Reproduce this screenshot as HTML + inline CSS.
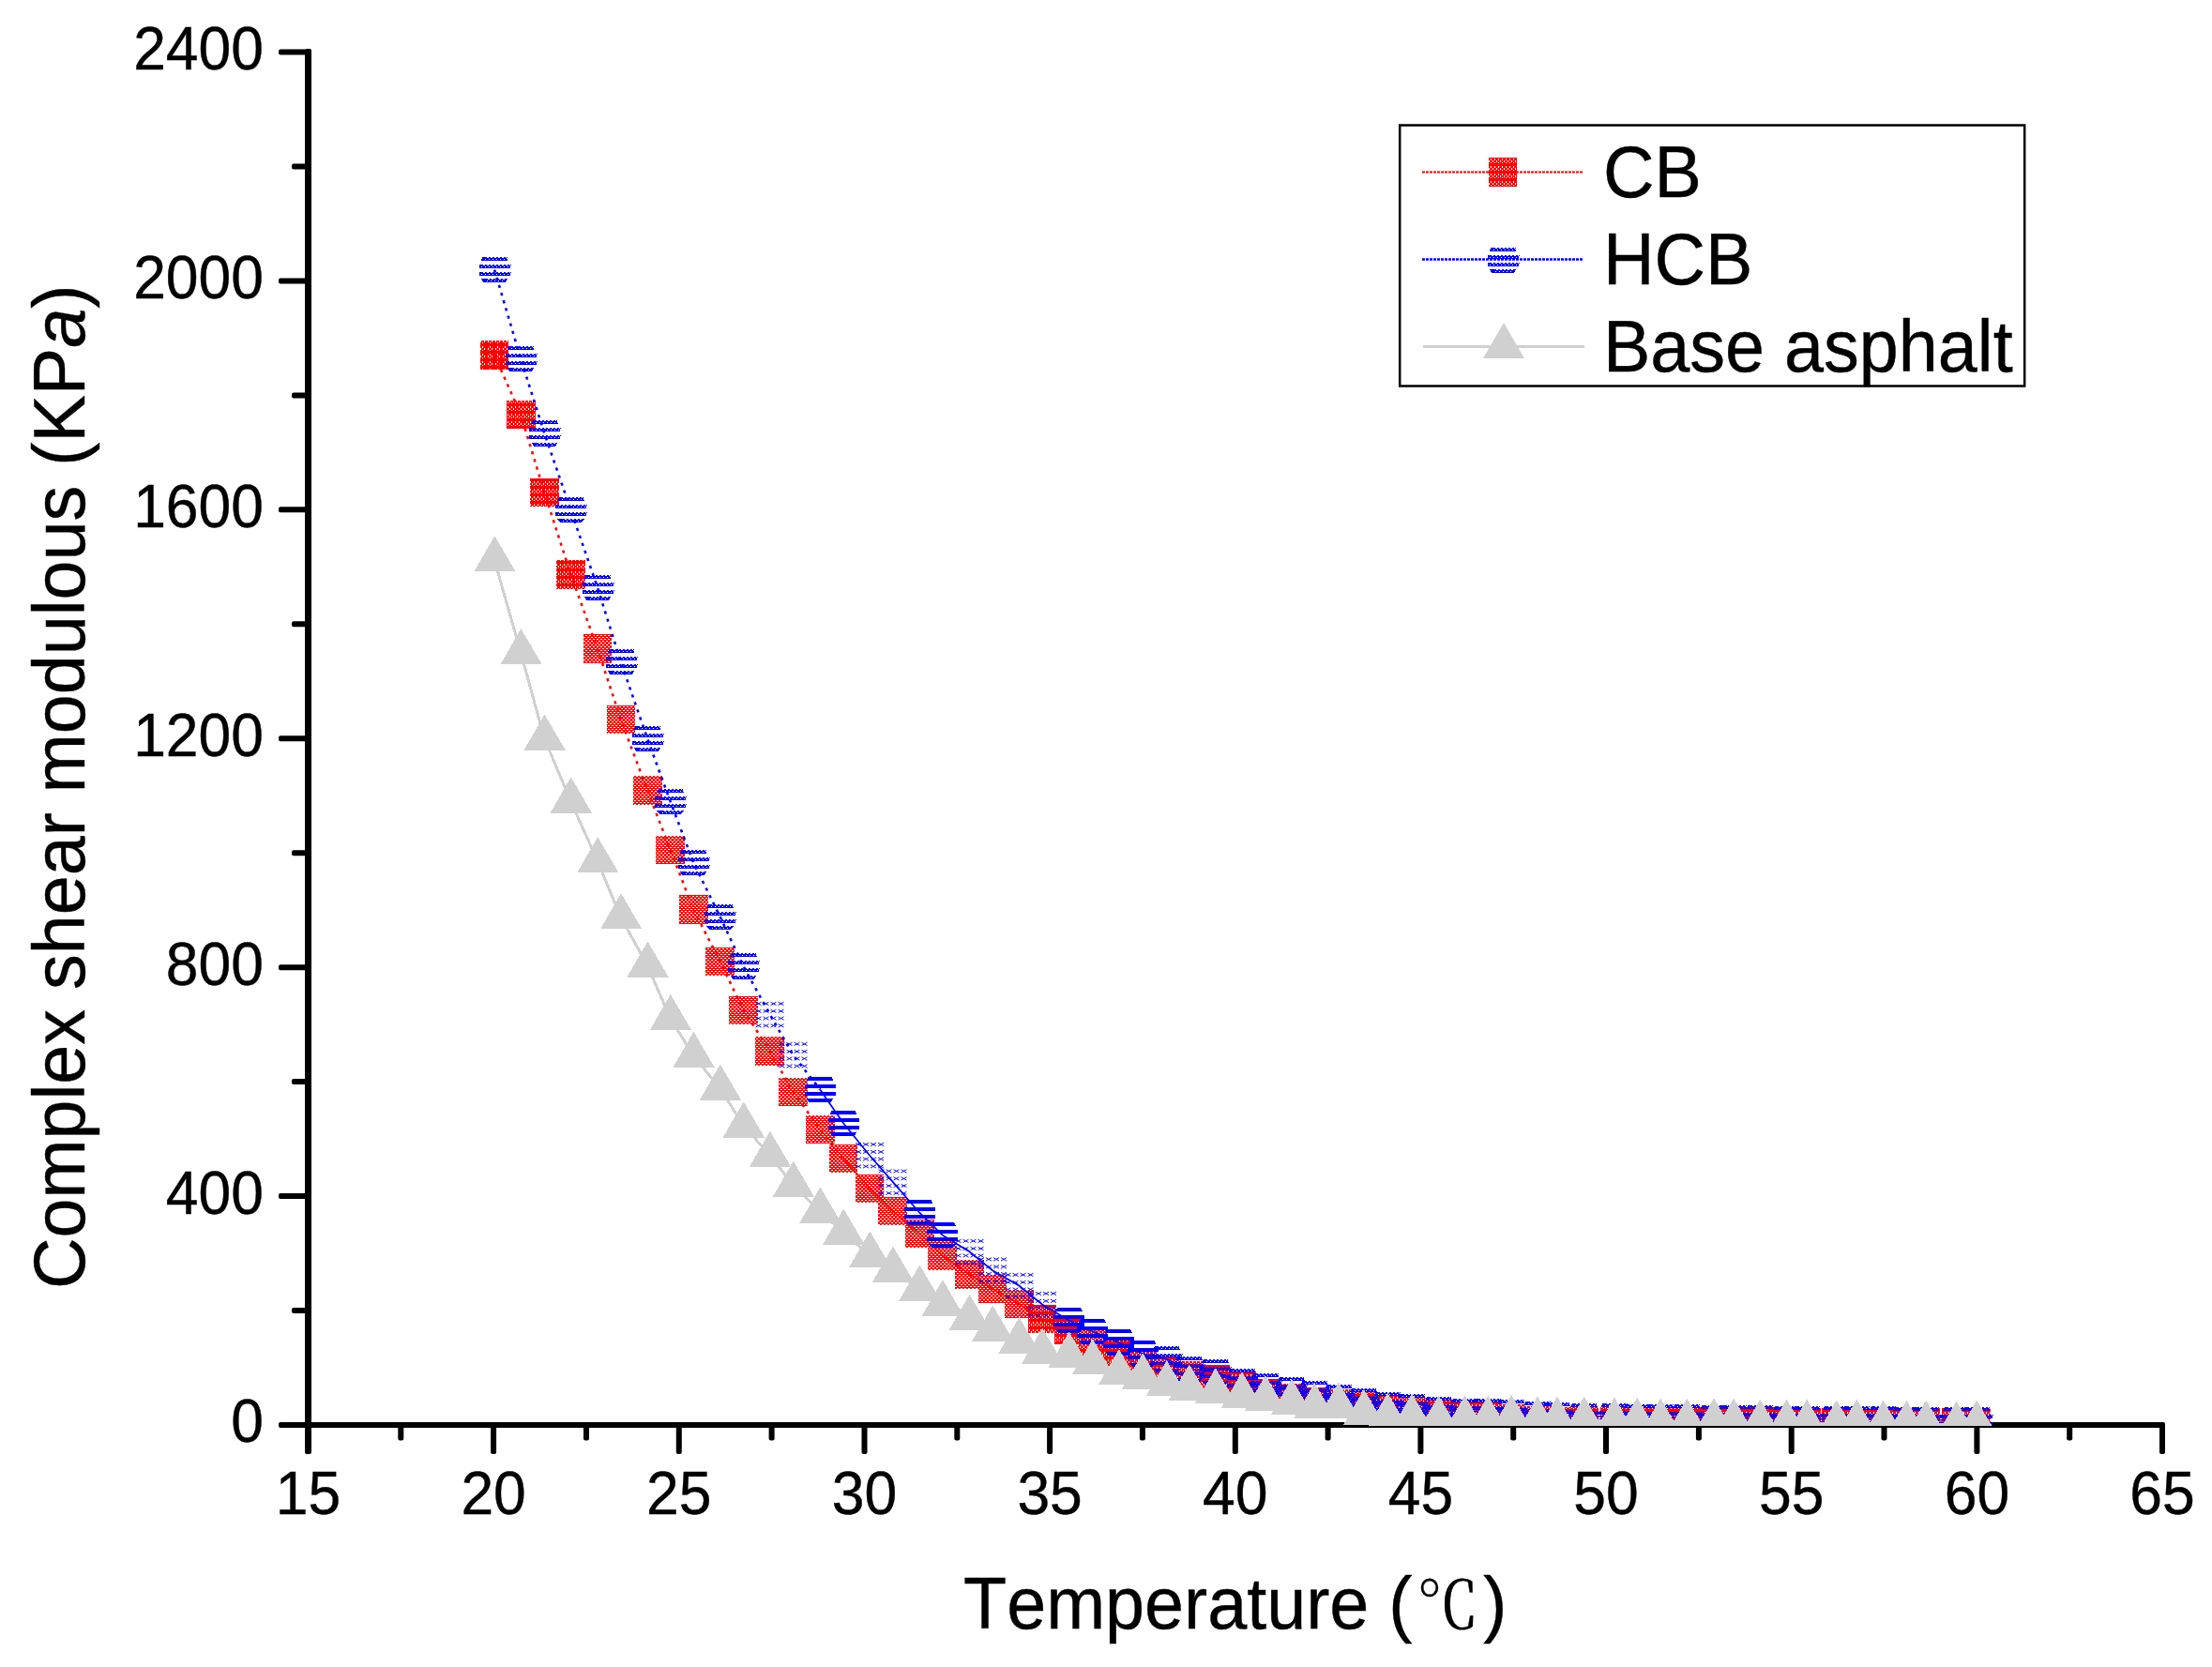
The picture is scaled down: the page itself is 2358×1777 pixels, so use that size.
<!DOCTYPE html>
<html lang="en"><head><meta charset="utf-8">
<title>Complex shear modulous vs Temperature</title>
<style>
html,body{margin:0;padding:0;background:#fff;}
body{width:2358px;height:1777px;overflow:hidden;}
svg{display:block;}
text{font-family:"Liberation Sans","Noto Serif CJK SC",sans-serif;fill:#000;stroke:#000;stroke-width:.4px;font-kerning:none;}
.tick{font-size:62px;}
.title{font-size:75px;}
.cjk{font-family:"Noto Serif CJK SC","Liberation Serif",serif;}
</style></head><body>
<svg width="2358" height="1777" viewBox="0 0 2358 1777">
<rect width="2358" height="1777" fill="#fff"/>
<defs>
<pattern id="r1" width="8" height="8" patternUnits="userSpaceOnUse"><path fill="#f00" d="M0 0h8v8h-8z M2 1h1v2h-1z M0 3h1v2h-1z M4 3h1v2h-1z M2 5h1v1h-1z" fill-rule="evenodd"/></pattern>
<pattern id="r2" width="4" height="8" patternUnits="userSpaceOnUse"><path fill="#f00" d="M0 0h4v8h-4z M1 1h1v2h-1z M3 3h1v2h-1z M1 5h1v1h-1z" fill-rule="evenodd"/></pattern>
<pattern id="r3" width="4" height="4" patternUnits="userSpaceOnUse"><path fill="#f00" d="M0 0h4v4h-4z M0 1h2v1h-2z M2 3h2v1h-2z" fill-rule="evenodd"/></pattern>
<path id="hcA" fill="#00f" fill-rule="evenodd" d="M-12.5 -13.6H12.5L14.5 -9.6H-14.5zM-10.0 -11.6h1v1h-1zM-8.5 -13.6h2v1h-2zM-6.0 -11.6h1v1h-1zM-4.5 -13.6h2v1h-2zM-2.0 -11.6h1v1h-1zM-0.5 -13.6h2v1h-2zM2.0 -11.6h1v1h-1zM3.5 -13.6h2v1h-2zM6.0 -11.6h1v1h-1zM7.5 -13.6h2v1h-2zM10.0 -11.6h1v1h-1zM11.5 -13.6h2v1h-2zM-16.5 -5.6H16.5L16.5 -1.6H-16.5zM-14.0 -3.6h1v1h-1zM-12.5 -5.6h2v1h-2zM-10.0 -3.6h1v1h-1zM-8.5 -5.6h2v1h-2zM-6.0 -3.6h1v1h-1zM-4.5 -5.6h2v1h-2zM-2.0 -3.6h1v1h-1zM-0.5 -5.6h2v1h-2zM2.0 -3.6h1v1h-1zM3.5 -5.6h2v1h-2zM6.0 -3.6h1v1h-1zM7.5 -5.6h2v1h-2zM10.0 -3.6h1v1h-1zM11.5 -5.6h2v1h-2zM14.0 -3.6h1v1h-1zM15.5 -5.6h2v1h-2zM-16.5 2.0H16.5L16.5 6.0H-16.5zM-14.0 4.0h1v1h-1zM-12.5 2.0h2v1h-2zM-10.0 4.0h1v1h-1zM-8.5 2.0h2v1h-2zM-6.0 4.0h1v1h-1zM-4.5 2.0h2v1h-2zM-2.0 4.0h1v1h-1zM-0.5 2.0h2v1h-2zM2.0 4.0h1v1h-1zM3.5 2.0h2v1h-2zM6.0 4.0h1v1h-1zM7.5 2.0h2v1h-2zM10.0 4.0h1v1h-1zM11.5 2.0h2v1h-2zM14.0 4.0h1v1h-1zM15.5 2.0h2v1h-2zM-14.2 9.9H14.2L11.0 13.9H-11.0zM-8.5 11.9h1v1h-1zM-7.0 9.9h2v1h-2zM-4.5 11.9h1v1h-1zM-3.0 9.9h2v1h-2zM-0.5 11.9h1v1h-1zM1.0 9.9h2v1h-2zM3.5 11.9h1v1h-1zM5.0 9.9h2v1h-2zM7.5 11.9h1v1h-1zM9.0 9.9h2v1h-2z"/>
<path id="hcC" fill="#00f" d="M-12.5 -13.6H12.5L14.5 -9.6H-14.5zM-16.5 -5.6H16.5L16.5 -1.6H-16.5zM-16.5 2.0H16.5L16.5 6.0H-16.5zM-14.2 9.9H14.2L11.0 13.9H-11.0z"/>
<path id="hcB" fill="none" stroke="#00f" stroke-width=".95" shape-rendering="auto" d="M-15.0 -13.3L-9.0 -9.9M-15.0 -9.9L-9.0 -13.3M-7.0 -13.3L-1.0 -9.9M-7.0 -9.9L-1.0 -13.3M1.0 -13.3L7.0 -9.9M1.0 -9.9L7.0 -13.3M9.0 -13.3L15.0 -9.9M9.0 -9.9L15.0 -13.3M-15.0 -5.3L-9.0 -1.9M-15.0 -1.9L-9.0 -5.3M-7.0 -5.3L-1.0 -1.9M-7.0 -1.9L-1.0 -5.3M1.0 -5.3L7.0 -1.9M1.0 -1.9L7.0 -5.3M9.0 -5.3L15.0 -1.9M9.0 -1.9L15.0 -5.3M-15.0 2.3L-9.0 5.7M-15.0 5.7L-9.0 2.3M-7.0 2.3L-1.0 5.7M-7.0 5.7L-1.0 2.3M1.0 2.3L7.0 5.7M1.0 5.7L7.0 2.3M9.0 2.3L15.0 5.7M9.0 5.7L15.0 2.3M-15.0 10.2L-9.0 13.6M-15.0 13.6L-9.0 10.2M-7.0 10.2L-1.0 13.6M-7.0 13.6L-1.0 10.2M1.0 10.2L7.0 13.6M1.0 13.6L7.0 10.2M9.0 10.2L15.0 13.6M9.0 13.6L15.0 10.2"/>
<clipPath id="plot"><rect x="332" y="40" width="1990" height="1480"/></clipPath>
</defs>
<g fill="#000">
<rect x="325" y="52" width="7" height="1498" ry="2"/>
<rect x="297" y="1516" width="2011" height="6" rx="2"/>
<rect x="311" y="1394.0" width="16" height="6" rx="2"/>
<rect x="297" y="1272.1" width="30" height="6" rx="2"/>
<rect x="311" y="1150.1" width="16" height="6" rx="2"/>
<rect x="297" y="1028.2" width="30" height="6" rx="2"/>
<rect x="311" y="906.2" width="16" height="6" rx="2"/>
<rect x="297" y="784.2" width="30" height="6" rx="2"/>
<rect x="311" y="662.3" width="16" height="6" rx="2"/>
<rect x="297" y="540.3" width="30" height="6" rx="2"/>
<rect x="311" y="418.4" width="16" height="6" rx="2"/>
<rect x="297" y="296.4" width="30" height="6" rx="2"/>
<rect x="311" y="174.5" width="16" height="6" rx="2"/>
<rect x="297" y="52.5" width="30" height="6" rx="2"/>
<rect x="424.3" y="1518" width="6" height="17.5" ry="2"/>
<rect x="523.1" y="1518" width="6" height="32" ry="2"/>
<rect x="622.0" y="1518" width="6" height="17.5" ry="2"/>
<rect x="720.8" y="1518" width="6" height="32" ry="2"/>
<rect x="819.6" y="1518" width="6" height="17.5" ry="2"/>
<rect x="918.5" y="1518" width="6" height="32" ry="2"/>
<rect x="1017.3" y="1518" width="6" height="17.5" ry="2"/>
<rect x="1116.1" y="1518" width="6" height="32" ry="2"/>
<rect x="1214.9" y="1518" width="6" height="17.5" ry="2"/>
<rect x="1313.8" y="1518" width="6" height="32" ry="2"/>
<rect x="1412.6" y="1518" width="6" height="17.5" ry="2"/>
<rect x="1511.4" y="1518" width="6" height="32" ry="2"/>
<rect x="1610.2" y="1518" width="6" height="17.5" ry="2"/>
<rect x="1709.0" y="1518" width="6" height="32" ry="2"/>
<rect x="1807.9" y="1518" width="6" height="17.5" ry="2"/>
<rect x="1906.7" y="1518" width="6" height="32" ry="2"/>
<rect x="2005.5" y="1518" width="6" height="17.5" ry="2"/>
<rect x="2104.4" y="1518" width="6" height="32" ry="2"/>
<rect x="2203.2" y="1518" width="6" height="17.5" ry="2"/>
<rect x="2302.0" y="1518" width="6" height="32" ry="2"/>
</g>
<g clip-path="url(#plot)" shape-rendering="crispEdges">
<polyline points="527.1,378.4 555.2,442.0 580.3,524.8 608.4,612.2 637.0,691.7 661.8,767.0 690.2,842.7 714.6,905.8 739.2,969.5 767.6,1024.9 792.5,1076.8 820.7,1120.4 845.5,1163.8 874.2,1203.9 899.0,1234.9" fill="none" stroke="#f00" stroke-width="2.6" stroke-dasharray="3.2 5.3" shape-rendering="auto"/>
<polyline points="899.0,1234.9 927.1,1266.9 951.7,1291.0 980.2,1314.9 1004.7,1338.6 1033.4,1358.2 1058.0,1373.8 1086.3,1390.1 1111.0,1405.8 1139.4,1418.0 1164.6,1433.0 1192.6,1444.0 1217.9,1456.0 1243.5,1461.8 1267.6,1466.0 1295.6,1470.3 1323.8,1477.5 1348.8,1485.5 1376.7,1490.0 1401.1,1493.8 1426.8,1496.0 1453.7,1499.5 1479.0,1503.0 1504.9,1505.5 1533.4,1508.0 1561.3,1509.5 1586.0,1510.5 1611.0,1512.5 1638.8,1514.0 1659.7,1515.0 1688.5,1515.0 1720.8,1515.0 1745.0,1515.0 1769.9,1515.0 1798.1,1515.0 1826.8,1515.0 1847.9,1515.0 1876.1,1515.5 1904.3,1516.0 1925.8,1516.0 1957.6,1516.0 1979.1,1516.0 2007.4,1516.0 2032.2,1516.0 2053.0,1516.0 2085.4,1516.0 2107.1,1516.0" fill="none" stroke="#f00" stroke-width="1.7" shape-rendering="auto"/>
<rect x="511.8" y="363.1" width="30.6" height="30.6" fill="url(#r1)"/>
<rect x="539.9" y="426.7" width="30.6" height="30.6" fill="url(#r2)"/>
<rect x="565.0" y="509.5" width="30.6" height="30.6" fill="url(#r2)"/>
<rect x="593.1" y="596.9" width="30.6" height="30.6" fill="url(#r2)"/>
<rect x="621.7" y="676.4" width="30.6" height="30.6" fill="url(#r3)"/>
<rect x="646.5" y="751.7" width="30.6" height="30.6" fill="url(#r3)"/>
<rect x="674.9" y="827.4" width="30.6" height="30.6" fill="url(#r3)"/>
<rect x="699.3" y="890.5" width="30.6" height="30.6" fill="url(#r3)"/>
<rect x="723.9" y="954.2" width="30.6" height="30.6" fill="url(#r3)"/>
<rect x="752.3" y="1009.6" width="30.6" height="30.6" fill="url(#r3)"/>
<rect x="777.2" y="1061.5" width="30.6" height="30.6" fill="url(#r3)"/>
<rect x="805.4" y="1105.1" width="30.6" height="30.6" fill="url(#r3)"/>
<rect x="830.2" y="1148.5" width="30.6" height="30.6" fill="url(#r3)"/>
<rect x="858.9" y="1188.6" width="30.6" height="30.6" fill="url(#r3)"/>
<rect x="883.7" y="1219.6" width="30.6" height="30.6" fill="url(#r3)"/>
<rect x="911.8" y="1251.6" width="30.6" height="30.6" fill="url(#r3)"/>
<rect x="936.4" y="1275.7" width="30.6" height="30.6" fill="url(#r3)"/>
<rect x="964.9" y="1299.6" width="30.6" height="30.6" fill="url(#r3)"/>
<rect x="989.4" y="1323.3" width="30.6" height="30.6" fill="url(#r3)"/>
<rect x="1018.1" y="1342.9" width="30.6" height="30.6" fill="url(#r3)"/>
<rect x="1042.7" y="1358.5" width="30.6" height="30.6" fill="url(#r3)"/>
<rect x="1071.0" y="1374.8" width="30.6" height="30.6" fill="url(#r3)"/>
<rect x="1095.7" y="1390.5" width="30.6" height="30.6" fill="url(#r2)"/>
<rect x="1124.1" y="1402.7" width="30.6" height="30.6" fill="url(#r2)"/>
<rect x="1149.3" y="1417.7" width="30.6" height="30.6" fill="url(#r2)"/>
<rect x="1177.3" y="1428.7" width="30.6" height="30.6" fill="url(#r2)"/>
<rect x="1202.6" y="1440.7" width="30.6" height="30.6" fill="url(#r2)"/>
<rect x="1228.2" y="1446.5" width="30.6" height="30.6" fill="url(#r2)"/>
<rect x="1252.3" y="1450.7" width="30.6" height="30.6" fill="url(#r2)"/>
<rect x="1280.3" y="1455.0" width="30.6" height="30.6" fill="url(#r2)"/>
<rect x="1308.5" y="1462.2" width="30.6" height="30.6" fill="url(#r2)"/>
<rect x="1333.5" y="1470.2" width="30.6" height="30.6" fill="url(#r2)"/>
<rect x="1361.4" y="1474.7" width="30.6" height="30.6" fill="url(#r2)"/>
<rect x="1385.8" y="1478.5" width="30.6" height="30.6" fill="url(#r2)"/>
<rect x="1411.5" y="1480.7" width="30.6" height="30.6" fill="url(#r2)"/>
<rect x="1438.4" y="1484.2" width="30.6" height="30.6" fill="url(#r2)"/>
<rect x="1463.7" y="1487.7" width="30.6" height="30.6" fill="url(#r2)"/>
<rect x="1489.6" y="1490.2" width="30.6" height="30.6" fill="url(#r2)"/>
<rect x="1518.1" y="1492.7" width="30.6" height="30.6" fill="url(#r2)"/>
<rect x="1546.0" y="1494.2" width="30.6" height="30.6" fill="url(#r2)"/>
<rect x="1570.7" y="1495.2" width="30.6" height="30.6" fill="url(#r2)"/>
<rect x="1595.7" y="1497.2" width="30.6" height="30.6" fill="url(#r2)"/>
<rect x="1623.5" y="1498.7" width="30.6" height="30.6" fill="url(#r2)"/>
<rect x="1644.4" y="1499.7" width="30.6" height="30.6" fill="url(#r2)"/>
<rect x="1673.2" y="1499.7" width="30.6" height="30.6" fill="url(#r2)"/>
<rect x="1705.5" y="1499.7" width="30.6" height="30.6" fill="url(#r2)"/>
<rect x="1729.7" y="1499.7" width="30.6" height="30.6" fill="url(#r2)"/>
<rect x="1754.6" y="1499.7" width="30.6" height="30.6" fill="url(#r2)"/>
<rect x="1782.8" y="1499.7" width="30.6" height="30.6" fill="url(#r2)"/>
<rect x="1811.5" y="1499.7" width="30.6" height="30.6" fill="url(#r2)"/>
<rect x="1832.6" y="1499.7" width="30.6" height="30.6" fill="url(#r2)"/>
<rect x="1860.8" y="1500.2" width="30.6" height="30.6" fill="url(#r2)"/>
<rect x="1889.0" y="1500.7" width="30.6" height="30.6" fill="url(#r2)"/>
<rect x="1910.5" y="1500.7" width="30.6" height="30.6" fill="url(#r2)"/>
<rect x="1942.3" y="1500.7" width="30.6" height="30.6" fill="url(#r2)"/>
<rect x="1963.8" y="1500.7" width="30.6" height="30.6" fill="url(#r2)"/>
<rect x="1992.1" y="1500.7" width="30.6" height="30.6" fill="url(#r2)"/>
<rect x="2016.9" y="1500.7" width="30.6" height="30.6" fill="url(#r2)"/>
<rect x="2037.7" y="1500.7" width="30.6" height="30.6" fill="url(#r2)"/>
<rect x="2070.1" y="1500.7" width="30.6" height="30.6" fill="url(#r2)"/>
<rect x="2091.8" y="1500.7" width="30.6" height="30.6" fill="url(#r2)"/>
<polyline points="527.1,287.6 555.2,382.7 580.3,461.8 608.4,543.6 637.0,626.4 661.8,705.5 690.2,787.6 714.6,854.4 739.2,919.5 767.6,977.3 792.5,1030.2 820.7,1081.3 845.5,1124.7 874.2,1161.4" fill="none" stroke="#00f" stroke-width="2.6" stroke-dasharray="3.2 5.3" shape-rendering="auto"/>
<polyline points="874.2,1161.4 899.0,1197.3 927.1,1231.7 951.7,1259.9 980.2,1292.7 1004.7,1316.7 1033.4,1334.3 1058.0,1354.2 1086.3,1370.5 1111.0,1390.5 1139.4,1407.4 1164.6,1419.3 1192.6,1431.2 1217.9,1443.2 1243.5,1449.0 1267.6,1459.5 1295.6,1462.5 1323.8,1473.0 1348.8,1478.0 1376.7,1482.0 1401.1,1486.0 1426.8,1490.0 1453.7,1494.0 1479.0,1497.5 1504.9,1500.0 1533.4,1503.0 1561.3,1504.5 1586.0,1505.0 1611.0,1505.5 1638.8,1508.0 1659.7,1509.0 1688.5,1509.5 1720.8,1510.0 1745.0,1510.5 1769.9,1511.0 1798.1,1511.0 1826.8,1511.5 1847.9,1511.5 1876.1,1512.0 1904.3,1512.5 1925.8,1512.5 1957.6,1513.0 1979.1,1513.0 2007.4,1513.0 2032.2,1513.5 2053.0,1513.5 2085.4,1514.0 2107.1,1514.0" fill="none" stroke="#00f" stroke-width="1.7" shape-rendering="auto"/>
<use href="#hcA" x="527.0" y="287.5"/>
<use href="#hcA" x="555.0" y="382.5"/>
<use href="#hcA" x="580.5" y="462.0"/>
<use href="#hcA" x="608.5" y="543.5"/>
<use href="#hcA" x="637.0" y="626.5"/>
<use href="#hcA" x="662.0" y="705.5"/>
<use href="#hcA" x="690.0" y="787.5"/>
<use href="#hcA" x="714.5" y="854.5"/>
<use href="#hcA" x="739.0" y="919.5"/>
<use href="#hcA" x="767.5" y="977.5"/>
<use href="#hcA" x="792.5" y="1030.0"/>
<use href="#hcB" x="820.5" y="1081.5"/>
<use href="#hcB" x="845.5" y="1124.5"/>
<use href="#hcC" x="874.0" y="1161.5"/>
<use href="#hcC" x="899.0" y="1197.5"/>
<use href="#hcB" x="927.0" y="1231.5"/>
<use href="#hcB" x="951.5" y="1260.0"/>
<use href="#hcC" x="980.0" y="1292.5"/>
<use href="#hcC" x="1004.5" y="1316.5"/>
<use href="#hcB" x="1033.5" y="1334.5"/>
<use href="#hcB" x="1058.0" y="1354.0"/>
<use href="#hcB" x="1086.5" y="1370.5"/>
<use href="#hcB" x="1111.0" y="1390.5"/>
<use href="#hcC" x="1139.5" y="1407.5"/>
<use href="#hcC" x="1164.5" y="1419.5"/>
<use href="#hcC" x="1192.5" y="1431.0"/>
<use href="#hcC" x="1218.0" y="1443.0"/>
<use href="#hcA" x="1243.5" y="1449.0"/>
<use href="#hcA" x="1267.5" y="1459.5"/>
<use href="#hcA" x="1295.5" y="1462.5"/>
<use href="#hcA" x="1324.0" y="1473.0"/>
<use href="#hcA" x="1349.0" y="1478.0"/>
<use href="#hcA" x="1376.5" y="1482.0"/>
<use href="#hcA" x="1401.0" y="1486.0"/>
<use href="#hcA" x="1427.0" y="1490.0"/>
<use href="#hcA" x="1453.5" y="1494.0"/>
<use href="#hcA" x="1479.0" y="1497.5"/>
<use href="#hcA" x="1505.0" y="1500.0"/>
<use href="#hcA" x="1533.5" y="1503.0"/>
<use href="#hcA" x="1561.5" y="1504.5"/>
<use href="#hcA" x="1586.0" y="1505.0"/>
<use href="#hcA" x="1611.0" y="1505.5"/>
<use href="#hcA" x="1639.0" y="1508.0"/>
<use href="#hcA" x="1659.5" y="1509.0"/>
<use href="#hcA" x="1688.5" y="1509.5"/>
<use href="#hcA" x="1721.0" y="1510.0"/>
<use href="#hcA" x="1745.0" y="1510.5"/>
<use href="#hcA" x="1770.0" y="1511.0"/>
<use href="#hcA" x="1798.0" y="1511.0"/>
<use href="#hcA" x="1827.0" y="1511.5"/>
<use href="#hcA" x="1848.0" y="1511.5"/>
<use href="#hcA" x="1876.0" y="1512.0"/>
<use href="#hcA" x="1904.5" y="1512.5"/>
<use href="#hcA" x="1926.0" y="1512.5"/>
<use href="#hcA" x="1957.5" y="1513.0"/>
<use href="#hcA" x="1979.0" y="1513.0"/>
<use href="#hcA" x="2007.5" y="1513.0"/>
<use href="#hcA" x="2032.0" y="1513.5"/>
<use href="#hcA" x="2053.0" y="1513.5"/>
<use href="#hcA" x="2085.5" y="1514.0"/>
<use href="#hcA" x="2107.0" y="1514.0"/>
<polyline points="527.1,596.9 555.2,695.9 580.3,787.2 608.4,854.1 637.0,917.9 661.8,977.9 690.2,1029.3 714.6,1085.6 739.2,1125.4 767.6,1160.2 792.5,1200.0 820.7,1231.4 845.5,1263.4 874.2,1291.1 899.0,1314.1 927.1,1338.1 951.7,1354.2 980.2,1374.1 1004.7,1390.0 1033.4,1405.4 1058.0,1417.2 1086.3,1430.0 1111.0,1441.2 1139.4,1445.3 1164.6,1452.8 1192.6,1463.8 1217.9,1468.0 1243.5,1475.7 1267.6,1480.0 1295.6,1483.9 1323.8,1488.0 1348.8,1491.6 1376.7,1495.3 1401.1,1499.7 1426.8,1499.1 1453.7,1506.6 1479.0,1510.4 1504.9,1511.1 1533.4,1513.2 1561.3,1513.2 1586.0,1513.2 1611.0,1512.3 1638.8,1514.2 1659.7,1514.2 1688.5,1514.2 1720.8,1515.3 1745.0,1515.3 1769.9,1516.2 1798.1,1516.2 1826.8,1516.2 1847.9,1516.2 1876.1,1517.2 1904.3,1517.2 1925.8,1517.2 1957.6,1518.2 1979.1,1517.2 2007.4,1518.2 2032.2,1518.2 2053.0,1518.2 2085.4,1519.3 2107.1,1518.2" fill="none" stroke="#d0d0d0" stroke-width="3"/>
<path d="M527.3 571.2l22.4 38.2h-44.4zM555.4 670.2l22.4 38.2h-44.4zM580.5 761.5l22.4 38.2h-44.4zM608.6 828.4l22.4 38.2h-44.4zM637.2 892.2l22.4 38.2h-44.4zM662.0 952.2l22.4 38.2h-44.4zM690.4 1003.6l22.4 38.2h-44.4zM714.8 1059.9l22.4 38.2h-44.4zM739.4 1099.7l22.4 38.2h-44.4zM767.8 1134.5l22.4 38.2h-44.4zM792.7 1174.3l22.4 38.2h-44.4zM820.9 1205.7l22.4 38.2h-44.4zM845.7 1237.7l22.4 38.2h-44.4zM874.4 1265.4l22.4 38.2h-44.4zM899.2 1288.4l22.4 38.2h-44.4zM927.3 1312.4l22.4 38.2h-44.4zM951.9 1328.5l22.4 38.2h-44.4zM980.4 1348.4l22.4 38.2h-44.4zM1004.9 1364.3l22.4 38.2h-44.4zM1033.6 1379.7l22.4 38.2h-44.4zM1058.2 1391.5l22.4 38.2h-44.4zM1086.5 1404.3l22.4 38.2h-44.4zM1111.2 1415.5l22.4 38.2h-44.4zM1139.6 1419.6l22.4 38.2h-44.4zM1164.8 1427.1l22.4 38.2h-44.4zM1192.8 1438.1l22.4 38.2h-44.4zM1218.1 1442.3l22.4 38.2h-44.4zM1243.7 1450.0l22.4 38.2h-44.4zM1267.8 1454.3l22.4 38.2h-44.4zM1295.8 1458.2l22.4 38.2h-44.4zM1324.0 1462.3l22.4 38.2h-44.4zM1349.0 1465.9l22.4 38.2h-44.4zM1376.9 1469.6l22.4 38.2h-44.4zM1401.3 1474.0l22.4 38.2h-44.4zM1427.0 1473.4l22.4 38.2h-44.4zM1453.9 1480.9l22.4 38.2h-44.4zM1479.2 1484.7l22.4 38.2h-44.4zM1505.1 1485.4l22.4 38.2h-44.4zM1533.6 1487.5l22.4 38.2h-44.4zM1561.5 1487.5l22.4 38.2h-44.4zM1586.2 1487.5l22.4 38.2h-44.4zM1611.2 1486.6l22.4 38.2h-44.4zM1639.0 1488.5l22.4 38.2h-44.4zM1659.9 1488.5l22.4 38.2h-44.4zM1688.7 1488.5l22.4 38.2h-44.4zM1721.0 1489.6l22.4 38.2h-44.4zM1745.2 1489.6l22.4 38.2h-44.4zM1770.1 1490.5l22.4 38.2h-44.4zM1798.3 1490.5l22.4 38.2h-44.4zM1827.0 1490.5l22.4 38.2h-44.4zM1848.1 1490.5l22.4 38.2h-44.4zM1876.3 1491.5l22.4 38.2h-44.4zM1904.5 1491.5l22.4 38.2h-44.4zM1926.0 1491.5l22.4 38.2h-44.4zM1957.8 1492.5l22.4 38.2h-44.4zM1979.3 1491.5l22.4 38.2h-44.4zM2007.6 1492.5l22.4 38.2h-44.4zM2032.4 1492.5l22.4 38.2h-44.4zM2053.2 1492.5l22.4 38.2h-44.4zM2085.6 1493.6l22.4 38.2h-44.4zM2107.3 1492.5l22.4 38.2h-44.4z" fill="#d0d0d0"/>
</g>
<text class="tick" transform="translate(281.0 1537.4) scale(1.007 1.032)" text-anchor="end">0</text>
<text class="tick" transform="translate(281.0 1293.5) scale(1.007 1.032)" text-anchor="end">400</text>
<text class="tick" transform="translate(281.0 1049.6) scale(1.007 1.032)" text-anchor="end">800</text>
<text class="tick" transform="translate(281.0 805.6) scale(1.007 1.032)" text-anchor="end">1200</text>
<text class="tick" transform="translate(281.0 561.7) scale(1.007 1.032)" text-anchor="end">1600</text>
<text class="tick" transform="translate(281.0 317.8) scale(1.007 1.032)" text-anchor="end">2000</text>
<text class="tick" transform="translate(281.0 73.9) scale(1.007 1.032)" text-anchor="end">2400</text>
<text class="tick" transform="translate(328.5 1614.2) scale(1.007 1.035)" text-anchor="middle">15</text>
<text class="tick" transform="translate(526.1 1614.2) scale(1.007 1.035)" text-anchor="middle">20</text>
<text class="tick" transform="translate(723.8 1614.2) scale(1.007 1.035)" text-anchor="middle">25</text>
<text class="tick" transform="translate(921.5 1614.2) scale(1.007 1.035)" text-anchor="middle">30</text>
<text class="tick" transform="translate(1119.1 1614.2) scale(1.007 1.035)" text-anchor="middle">35</text>
<text class="tick" transform="translate(1316.8 1614.2) scale(1.007 1.035)" text-anchor="middle">40</text>
<text class="tick" transform="translate(1514.4 1614.2) scale(1.007 1.035)" text-anchor="middle">45</text>
<text class="tick" transform="translate(1712.0 1614.2) scale(1.007 1.035)" text-anchor="middle">50</text>
<text class="tick" transform="translate(1909.7 1614.2) scale(1.007 1.035)" text-anchor="middle">55</text>
<text class="tick" transform="translate(2107.4 1614.2) scale(1.007 1.035)" text-anchor="middle">60</text>
<text class="tick" transform="translate(2305.0 1614.2) scale(1.007 1.035)" text-anchor="middle">65</text>
<text class="title" transform="translate(1027.0 1736.0) scale(1.007 1.045)" text-anchor="start">Temperature (<tspan class="cjk" font-size="66" x="479.7">℃</tspan><tspan x="550.3">)</tspan></text>
<text class="title" transform="translate(90.0 838.8) rotate(-90) scale(1.007 1.045)" text-anchor="middle">Complex shear modulous (KP<tspan font-style="italic">a</tspan>)</text>
<rect x="1492.2" y="133.5" width="666" height="278" fill="#fff" stroke="#000" stroke-width="2.5"/>
<line x1="1516" y1="183.5" x2="1688" y2="183.5" stroke="#f00" stroke-width="2" stroke-dasharray="3 1"/>
<rect x="1587" y="168" width="30" height="31" fill="url(#r2)"/>
<line x1="1516" y1="276.5" x2="1688" y2="276.5" stroke="#00f" stroke-width="2.5" stroke-dasharray="3 1"/>
<use href="#hcA" x="1602" y="277.5" shape-rendering="crispEdges"/>
<line x1="1517" y1="369.5" x2="1689" y2="369.5" stroke="#d0d0d0" stroke-width="3"/>
<path d="M1603 344l22 38h-44z" fill="#d0d0d0"/>
<text class="title" transform="translate(1709.0 210.0) scale(1.007 1.045)" text-anchor="start">CB</text>
<text class="title" transform="translate(1709.0 303.0) scale(1.007 1.045)" text-anchor="start">HCB</text>
<text class="title" transform="translate(1709.0 396.3) scale(1.007 1.045)" text-anchor="start">Base asphalt</text>
</svg>
</body></html>
